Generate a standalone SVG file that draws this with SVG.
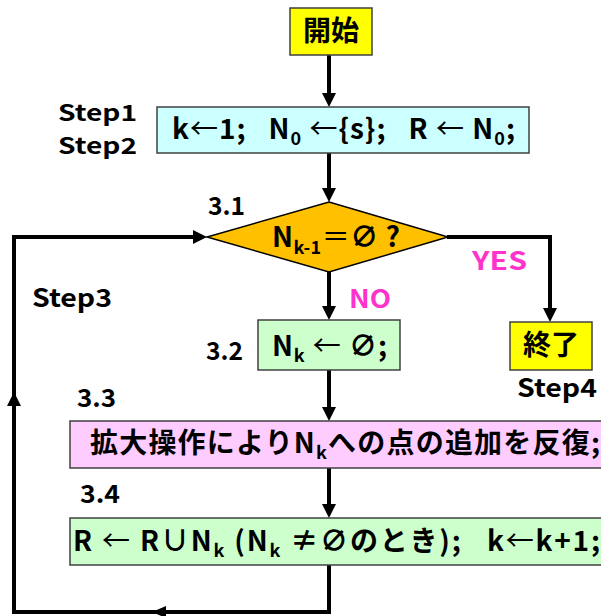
<svg xmlns="http://www.w3.org/2000/svg" width="601" height="616" viewBox="0 0 601 616">
<style>
text{font-family:"Noto Sans CJK JP","Noto Sans",sans-serif;font-weight:bold;fill:#000;white-space:pre}
.main{font-size:28px}
.lbl{font-size:25px}
.stp{font-size:22px}
.sub{font-size:18px}
.mag{fill:#ff33cc;font-size:25px}
.box{stroke:#404040;stroke-width:1.5}
.ln{fill:none;stroke:#000;stroke-width:4}
.ah{fill:#000}
.thin{font-weight:normal}
</style>
<rect width="601" height="616" fill="#fff"/>
<g id="edges">
<line class="ln" x1="329" y1="55" x2="329" y2="95"/>
<polygon class="ah" points="322,93 336,93 329,107"/>
<line class="ln" x1="329" y1="153" x2="329" y2="190"/>
<polygon class="ah" points="322,188 336,188 329,202"/>
<polyline class="ln" points="447,237 550,237 550,310"/>
<polygon class="ah" points="543,308 557,308 550,322"/>
<line class="ln" x1="329" y1="272" x2="329" y2="308"/>
<polygon class="ah" points="322,306 336,306 329,320"/>
<line class="ln" x1="329" y1="370" x2="329" y2="409"/>
<polygon class="ah" points="322,407 336,407 329,421"/>
<line class="ln" x1="329" y1="468" x2="329" y2="506"/>
<polygon class="ah" points="322,504 336,504 329,518"/>
<polyline class="ln" points="329,565 329,612 14,612 14,237 195,237"/>
<polygon class="ah" points="193,230 193,244 207,237"/>
<polygon class="ah" points="7,406 21,406 14,392"/>
<polygon class="ah" points="166,606 166,618 152,612"/>
</g>
<g id="start">
<rect class="box" x="290" y="8" width="82" height="47" fill="#ffff00"/>
<text class="main" x="331" y="41" text-anchor="middle">開始</text>
</g>
<g id="init">
<rect class="box" x="157" y="107" width="372" height="46" fill="#ccffff"/>
<text class="main" x="172" y="139" textLength="343" lengthAdjust="spacing">k<tspan class="thin">←</tspan>1;   N<tspan class="sub" dy="6">0</tspan><tspan dy="-6"> <tspan class="thin">←</tspan>{s};   R <tspan class="thin">←</tspan> N</tspan><tspan class="sub" dy="6">0</tspan><tspan dy="-6">;</tspan></text>
</g>
<g id="cond">
<polygon points="329,202 448,237 329,272 207,237" fill="#ffc000" stroke="#000" stroke-width="1.5"/>
<text class="main" x="272" y="247" textLength="128" lengthAdjust="spacing">N<tspan class="sub" dy="7">k-1</tspan><tspan dy="-7" class="thin">＝</tspan><tspan>∅ ?</tspan></text>
</g>
<g id="end">
<rect class="box" x="510" y="322" width="82" height="48" fill="#ffff00"/>
<text class="main" x="551" y="355" text-anchor="middle">終了</text>
</g>
<g id="s32">
<rect class="box" x="258" y="320" width="142" height="50" fill="#ccffcc"/>
<text class="main" x="272" y="356" textLength="115" lengthAdjust="spacing">N<tspan class="sub" dy="6">k</tspan><tspan dy="-6"> <tspan class="thin">←</tspan> ∅;</tspan></text>
</g>
<g id="s33">
<rect class="box" x="70" y="421" width="540" height="47" fill="#ffccff"/>
<text class="main" x="90" y="453" textLength="510" lengthAdjust="spacing">拡大操作によりN<tspan class="sub" dy="6">k</tspan><tspan dy="-6">への点の追加を反復;</tspan></text>
</g>
<g id="s34">
<rect class="box" x="70" y="518" width="540" height="47" fill="#ccffcc"/>
<text class="main" x="73" y="551" textLength="527" lengthAdjust="spacing">R <tspan class="thin">←</tspan> R∪N<tspan class="sub" dy="6">k</tspan><tspan dy="-6"> (N</tspan><tspan class="sub" dy="6">k</tspan><tspan dy="-6"> ≠∅のとき);   k<tspan class="thin">←</tspan>k+1;</tspan></text>
</g>
<g id="labels">
<text class="stp" x="58" y="121" textLength="79" lengthAdjust="spacingAndGlyphs">Step1</text>
<text class="stp" x="58" y="154" textLength="79" lengthAdjust="spacingAndGlyphs">Step2</text>
<text class="lbl" x="32" y="307" textLength="80" lengthAdjust="spacingAndGlyphs">Step3</text>
<text class="lbl" x="517" y="397" textLength="80" lengthAdjust="spacingAndGlyphs">Step4</text>
<text class="lbl" x="208" y="215" textLength="37" lengthAdjust="spacingAndGlyphs">3.1</text>
<text class="lbl" x="206" y="360" textLength="37" lengthAdjust="spacingAndGlyphs">3.2</text>
<text class="lbl" x="77" y="407" textLength="39" lengthAdjust="spacingAndGlyphs">3.3</text>
<text class="lbl" x="80" y="503" textLength="40" lengthAdjust="spacingAndGlyphs">3.4</text>
<text class="mag" x="472" y="270" textLength="55" lengthAdjust="spacingAndGlyphs">YES</text>
<text class="mag" x="349" y="308" textLength="42" lengthAdjust="spacingAndGlyphs">NO</text>
</g>
</svg>
